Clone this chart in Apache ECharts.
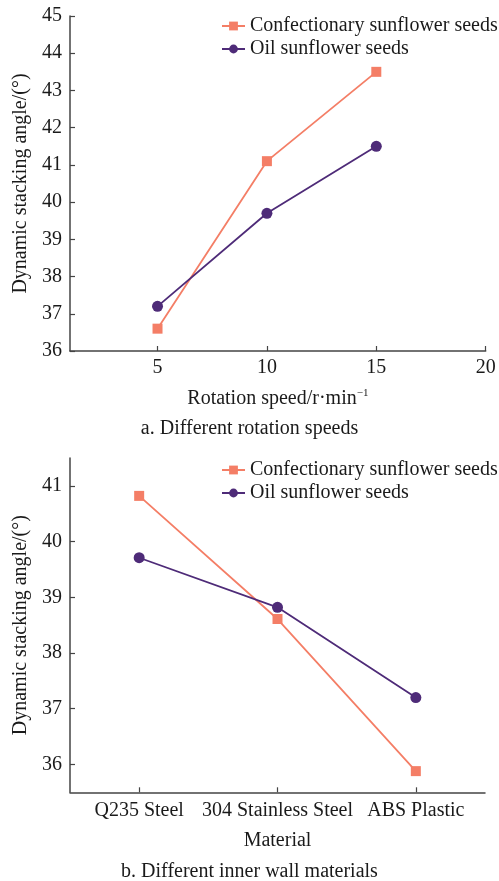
<!DOCTYPE html>
<html><head><meta charset="utf-8">
<script src="https://cdn.jsdelivr.net/npm/echarts@6/dist/echarts.min.js"></script>
<style>html,body{margin:0;padding:0;background:#fff}#c{width:499px;height:881px}</style>
</head><body><div id="c"></div>
<script>
// Chart a
const speeds = [5, 10, 15];
const speedTicks = [5, 10, 15, 20];
const confA = [36.6, 41.1, 43.5];
const oilA = [37.2, 39.7, 41.5];
// Chart b
const materials = ['Q235 Steel', '304 Stainless Steel', 'ABS Plastic'];
const confB = [40.82, 38.61, 35.88];
const oilB = [39.71, 38.82, 37.2];
const yTicksB = [36, 37, 38, 39, 40, 41];
const names = ['Confectionary sunflower seeds', 'Oil sunflower seeds'];

const FONT = 'Liberation Serif';
const FS = 20;
const ORANGE = '#F47E66';
const PURPLE = '#4E2B78';
const AX = '#444';
const TXT = '#1a1a1a';

const axisCommon = {
  axisLine: {show: true, lineStyle: {color: AX, width: 1.5}},
  axisTick: {show: true, inside: true, length: 5, lineStyle: {color: AX, width: 1.2}},
  splitLine: {show: false},
  axisLabel: {color: TXT, fontFamily: FONT, fontSize: FS},
  nameTextStyle: {color: TXT, fontFamily: FONT, fontSize: FS}
};

function legend(top) {
  return {
    left: 221, top: top, padding: 0, orient: 'vertical', itemWidth: 23, itemHeight: 11, itemGap: 3,
    textStyle: {color: TXT, fontFamily: FONT, fontSize: FS},
    data: names
  };
}

const chart = echarts.init(document.getElementById('c'), null, {renderer: 'canvas'});
chart.setOption({
  animation: false,
  backgroundColor: '#fff',
  grid: [
    {left: 70, top: 16, width: 415.7, height: 335},
    {left: 70, top: 458, width: 415, height: 334.3}
  ],
  legend: [legend(16), legend(460)],
  xAxis: [
    Object.assign({}, axisCommon, {
      gridIndex: 0, type: 'value', min: 1, max: 20,
      axisTick: Object.assign({}, axisCommon.axisTick, {customValues: speedTicks}),
      axisLabel: Object.assign({}, axisCommon.axisLabel, {customValues: speedTicks, margin: 7}),
      name: '{a|Rotation speed/r·min}{s|−1}', nameLocation: 'middle', nameGap: 37,
      nameTextStyle: {rich: {
        a: {color: TXT, fontFamily: FONT, fontSize: FS},
        s: {color: TXT, fontFamily: FONT, fontSize: 11, padding: [0,0,10,0]}
      }}
    }),
    Object.assign({}, axisCommon, {
      gridIndex: 1, type: 'category', data: materials, boundaryGap: true,
      axisTick: Object.assign({}, axisCommon.axisTick, {alignWithLabel: true}),
      axisLabel: Object.assign({}, axisCommon.axisLabel, {margin: 8, interval: 0}),
      name: 'Material', nameLocation: 'middle', nameGap: 38
    })
  ],
  yAxis: [
    Object.assign({}, axisCommon, {
      gridIndex: 0, type: 'value', min: 36, max: 45, interval: 1,
      axisLabel: Object.assign({}, axisCommon.axisLabel, {margin: 8}),
      name: 'Dynamic stacking angle/(°)', nameLocation: 'middle', nameGap: 36
    }),
    Object.assign({}, axisCommon, {
      gridIndex: 1, type: 'value', min: 35.5, max: 41.5,
      axisTick: Object.assign({}, axisCommon.axisTick, {customValues: yTicksB}),
      axisLabel: Object.assign({}, axisCommon.axisLabel, {margin: 8, customValues: yTicksB}),
      name: 'Dynamic stacking angle/(°)', nameLocation: 'middle', nameGap: 36
    })
  ],
  series: [
    {name: names[0], type: 'line', xAxisIndex: 0, yAxisIndex: 0,
     data: speeds.map((s, i) => [s, confA[i]]),
     symbol: 'rect', symbolSize: 10, lineStyle: {color: ORANGE, width: 1.8}, itemStyle: {color: ORANGE}},
    {name: names[1], type: 'line', xAxisIndex: 0, yAxisIndex: 0,
     data: speeds.map((s, i) => [s, oilA[i]]),
     symbol: 'circle', symbolSize: 11, lineStyle: {color: PURPLE, width: 1.8}, itemStyle: {color: PURPLE}},
    {name: names[0], type: 'line', xAxisIndex: 1, yAxisIndex: 1, data: confB,
     symbol: 'rect', symbolSize: 10, lineStyle: {color: ORANGE, width: 1.8}, itemStyle: {color: ORANGE}},
    {name: names[1], type: 'line', xAxisIndex: 1, yAxisIndex: 1, data: oilB,
     symbol: 'circle', symbolSize: 11, lineStyle: {color: PURPLE, width: 1.8}, itemStyle: {color: PURPLE}}
  ],
  graphic: [
    {type: 'text', left: 'center', top: 419, style: {text: 'a. Different rotation speeds', fill: TXT, font: FS + 'px "Liberation Serif"'}, z: 10},
    {type: 'text', left: 'center', top: 862, style: {text: 'b. Different inner wall materials', fill: TXT, font: FS + 'px "Liberation Serif"'}, z: 10}
  ]
});
</script></body></html>
